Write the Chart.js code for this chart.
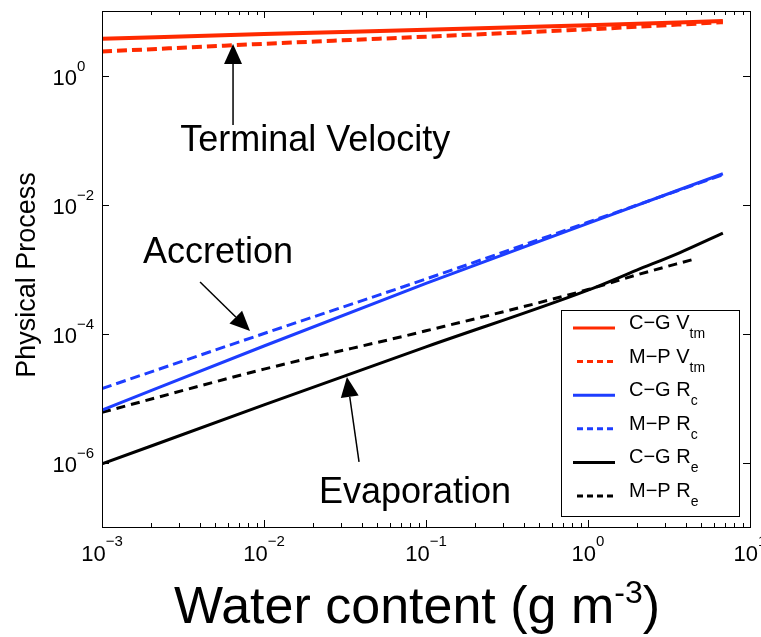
<!DOCTYPE html>
<html>
<head>
<meta charset="utf-8">
<script src="https://cdn.jsdelivr.net/npm/chart.js@4/dist/chart.umd.min.js"></script>
<style>
  body { margin: 0; background: #fff; }
  #wrap { width: 761px; height: 637px; }
</style>
</head>
<body>
<div id="wrap"><canvas id="chart" width="761" height="637"></canvas></div>
<script>
// water content (g m-3) and the process rates
const waterVel = [0.001, 0.01, 0.1, 1, 6.8];
const cgVtm = [3.7, 4.4, 5.1, 6.0, 7.0];
const mpVtm = [2.35, 3.1, 4.0, 5.2, 6.7];

const waterRc = [0.001, 0.01, 0.1, 1, 6.8];
const cgRc = [6.5e-6, 6.4e-5, 6.0e-4, 5.1e-3, 0.030];
const mpRc = [1.4e-5, 1.0e-4, 7.0e-4, 5.3e-3, 0.029];

const waterCgRe = [0.001, 0.01, 0.1, 1, 2, 3.7, 6.8];
const cgRe = [9.5e-7, 7.8e-6, 6.2e-5, 4.7e-4, 9.6e-4, 1.8e-3, 3.6e-3];
const waterMpRe = [0.001, 0.01, 0.1, 1, 2, 4.6];
const mpRe = [6.0e-6, 2.8e-5, 1.1e-4, 4.8e-4, 8.1e-4, 1.44e-3];

const xTicks = [1e-3, 1e-2, 1e-1, 1, 10];
const xTickExp = ['\u22123', '\u22122', '\u22121', '0', '1'];
const yTicks = [1, 1e-2, 1e-4, 1e-6];
const yTickExp = ['0', '\u22122', '\u22124', '\u22126'];

const legendNames = [['C\u2212G V', 'tm'], ['M\u2212P V', 'tm'], ['C\u2212G R', 'c'], ['M\u2212P R', 'c'], ['C\u2212G R', 'e'], ['M\u2212P R', 'e']];

// annotations, in data coordinates
const arrows = [
  { from: [0.00644, 0.171], to: [0.00644, 3.08] },
  { from: [0.00403, 6.3e-4], to: [0.0082, 1.09e-4] },
  { from: [0.0386, 1.02e-6], to: [0.0325, 2.12e-5] }
];
const notes = [
  { text: 'Terminal Velocity', at: [0.0207, 0.0676] },
  { text: 'Accretion', at: [0.0052, 1.24e-3] },
  { text: 'Evaporation', at: [0.0855, 2.35e-7] }
];

const RED = '#ff2a00';
const BLUE = '#1d3dff';
const BLACK = '#000000';
const FONT = '"Liberation Sans", Arial, Helvetica, sans-serif';

function pts(xs, ys) {
  return xs.map((x, i) => ({ x: x, y: ys[i] }));
}

function series(label, xs, ys, color, dash, width) {
  return {
    label: label,
    data: pts(xs, ys),
    borderColor: color,
    backgroundColor: color,
    borderWidth: width,
    borderDash: dash,
    pointRadius: 0,
    fill: false,
    cubicInterpolationMode: 'monotone'
  };
}

// "10" with a raised exponent
function power(ctx, exp, y, size, expSize, raise) {
  ctx.font = size + 'px ' + FONT;
  const w1 = ctx.measureText('10').width;
  ctx.font = expSize + 'px ' + FONT;
  const w2 = ctx.measureText(exp).width;
  return { w: w1 + w2, w1: w1, draw: function(left) {
    ctx.font = size + 'px ' + FONT;
    ctx.fillText('10', left, y);
    ctx.font = expSize + 'px ' + FONT;
    ctx.fillText(exp, left + w1, y - raise);
  } };
}

function arrow(ctx, x1, y1, x2, y2) {
  const ang = Math.atan2(y2 - y1, x2 - x1);
  const len = 20, half = 9;
  const bx = x2 - len * Math.cos(ang), by = y2 - len * Math.sin(ang);
  ctx.strokeStyle = '#000';
  ctx.lineWidth = 1.5;
  ctx.beginPath();
  ctx.moveTo(x1, y1);
  ctx.lineTo(bx, by);
  ctx.stroke();
  ctx.fillStyle = '#000';
  ctx.beginPath();
  ctx.moveTo(x2, y2);
  ctx.lineTo(bx + half * Math.sin(ang), by - half * Math.cos(ang));
  ctx.lineTo(bx - half * Math.sin(ang), by + half * Math.cos(ang));
  ctx.closePath();
  ctx.fill();
}

const decorations = {
  id: 'decorations',
  afterDraw(chart) {
    const ctx = chart.ctx;
    const area = chart.chartArea;
    const xs = chart.scales.x, ys = chart.scales.y;
    ctx.save();

    // frame
    ctx.strokeStyle = '#000';
    ctx.lineWidth = 1;
    ctx.strokeRect(area.left + 0.5, area.top + 0.5, area.right - area.left, area.bottom - area.top);

    // x ticks (major and minor, inward, top and bottom)
    for (let d = 0; d < xTicks.length - 1; d++) {
      for (let m = 1; m <= 9; m++) {
        const px = Math.round(xs.getPixelForValue(xTicks[d] * m)) + 0.5;
        const len = m === 1 ? 7 : 4;
        ctx.beginPath();
        ctx.moveTo(px, area.bottom);
        ctx.lineTo(px, area.bottom - len);
        ctx.moveTo(px, area.top);
        ctx.lineTo(px, area.top + len);
        ctx.stroke();
      }
    }
    // y ticks
    yTicks.forEach(v => {
      const py = Math.round(ys.getPixelForValue(v)) + 0.5;
      ctx.beginPath();
      ctx.moveTo(area.left, py);
      ctx.lineTo(area.left + 7, py);
      ctx.moveTo(area.right, py);
      ctx.lineTo(area.right - 7, py);
      ctx.stroke();
    });

    // tick labels
    ctx.fillStyle = '#000';
    ctx.textBaseline = 'alphabetic';
    ctx.textAlign = 'left';
    xTicks.forEach((v, i) => {
      const px = xs.getPixelForValue(v);
      const p = power(ctx, xTickExp[i], area.bottom + 34, 22, 15, 15);
      p.draw(px - p.w / 2);
    });
    yTicks.forEach((v, i) => {
      const py = ys.getPixelForValue(v);
      const p = power(ctx, yTickExp[i], py + 9, 22, 15, 14);
      p.draw(area.left - 25 - p.w1);
    });

    // axis titles
    ctx.save();
    ctx.translate(area.left - 67, (area.top + area.bottom) / 2 + 6);
    ctx.rotate(-Math.PI / 2);
    ctx.textAlign = 'center';
    ctx.font = '27px ' + FONT;
    ctx.fillText('Physical Process', 0, 0);
    ctx.restore();

    ctx.textAlign = 'left';
    ctx.font = '52px ' + FONT;
    const t1 = 'Water content (g m';
    const wa = ctx.measureText(t1).width;
    ctx.font = '32px ' + FONT;
    const wb = ctx.measureText('-3').width;
    ctx.font = '52px ' + FONT;
    const wc = ctx.measureText(')').width;
    const startX = (area.left + area.right) / 2 - 9 - (wa + wb + wc) / 2;
    const base = area.bottom + 96;
    ctx.fillText(t1, startX, base);
    ctx.font = '32px ' + FONT;
    ctx.fillText('-3', startX + wa, base - 20);
    ctx.font = '52px ' + FONT;
    ctx.fillText(')', startX + wa + wb, base);

    // annotations
    ctx.textAlign = 'center';
    ctx.font = '36px ' + FONT;
    notes.forEach(n => {
      ctx.fillText(n.text, xs.getPixelForValue(n.at[0]), ys.getPixelForValue(n.at[1]));
    });
    arrows.forEach(a => {
      arrow(ctx, xs.getPixelForValue(a.from[0]), ys.getPixelForValue(a.from[1]),
        xs.getPixelForValue(a.to[0]), ys.getPixelForValue(a.to[1]));
    });

    // legend box
    const bx = area.right - 189, by = area.bottom - 217;
    const bw = 178, bh = 206;
    ctx.fillStyle = '#fff';
    ctx.fillRect(bx, by, bw, bh);
    ctx.strokeStyle = '#000';
    ctx.lineWidth = 1;
    ctx.strokeRect(bx + 0.5, by + 0.5, bw, bh);
    chart.data.datasets.forEach((ds, i) => {
      const ly = by + 18 + i * 33.6;
      ctx.strokeStyle = ds.borderColor;
      ctx.lineWidth = 3;
      ctx.setLineDash(ds.borderDash.length ? [6, 4] : []);
      ctx.beginPath();
      ctx.moveTo(bx + (ds.borderDash.length ? 16 : 12), ly);
      ctx.lineTo(bx + 54, ly);
      ctx.stroke();
      ctx.setLineDash([]);
      ctx.fillStyle = '#000';
      ctx.textAlign = 'left';
      ctx.font = '20px ' + FONT;
      const name = legendNames[i];
      ctx.fillText(name[0], bx + 68, ly + 1);
      const w = ctx.measureText(name[0]).width;
      ctx.font = '14px ' + FONT;
      ctx.fillText(name[1], bx + 68 + w, ly + 10);
    });

    ctx.restore();
  }
};

new Chart(document.getElementById('chart'), {
  type: 'line',
  data: {
    datasets: [
      series('C-G Vtm', waterVel, cgVtm, RED, [], 4),
      series('M-P Vtm', waterVel, mpVtm, RED, [10, 5], 4),
      series('C-G Rc', waterRc, cgRc, BLUE, [], 3),
      series('M-P Rc', waterRc, mpRc, BLUE, [10, 5], 3),
      series('C-G Re', waterCgRe, cgRe, BLACK, [], 3),
      series('M-P Re', waterMpRe, mpRe, BLACK, [9, 6], 3)
    ]
  },
  options: {
    responsive: false,
    animation: false,
    layout: { padding: { left: 102, right: 11, top: 11, bottom: 110 } },
    plugins: { legend: { display: false }, tooltip: { enabled: false } },
    scales: {
      x: { type: 'logarithmic', min: 1e-3, max: 10, display: false },
      y: { type: 'logarithmic', min: 1e-7, max: 10, display: false }
    }
  },
  plugins: [decorations]
});
</script>
</body>
</html>
